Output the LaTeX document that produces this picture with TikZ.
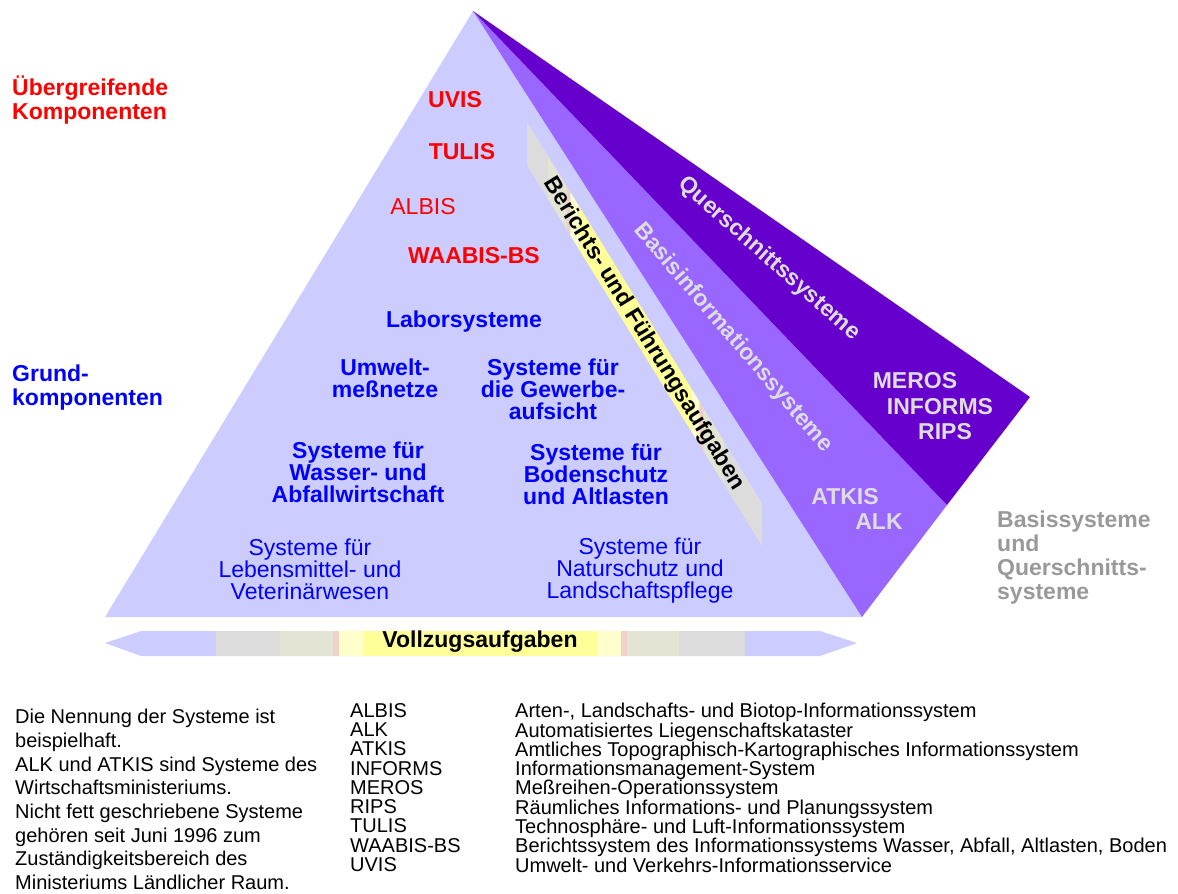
\documentclass[tikz,border=0pt]{standalone}
\usepackage{fontspec}
\setmainfont{Liberation Sans}
\usetikzlibrary{calc}
\definecolor{lav}{HTML}{CCCCFF}
\definecolor{medp}{HTML}{9966FF}
\definecolor{darkp}{HTML}{6600CC}
\definecolor{bgrey}{HTML}{DCDCDC}
\definecolor{bgg}{HTML}{E4E4D4}
\definecolor{bpink}{HTML}{F0D0C8}
\definecolor{bly}{HTML}{FFFFCC}
\definecolor{byel}{HTML}{FFFF99}
\definecolor{lgrey}{HTML}{DDDDDD}
\definecolor{mgrey}{HTML}{999999}
\definecolor{pred}{HTML}{FF0000}
\definecolor{pblue}{HTML}{0000FF}
\begin{document}
\begin{tikzpicture}[x=1pt,y=-1pt,
  bigb/.style={font=\fontsize{23}{22}\selectfont\bfseries, inner sep=0pt, align=center},
  bign/.style={font=\fontsize{23}{22}\selectfont, inner sep=0pt, align=center},
  sidelab/.style={font=\fontsize{23}{24}\selectfont\bfseries, inner sep=0pt, align=left, anchor=west},
  small/.style={font=\fontsize{20}{19.3}\selectfont, inner sep=0pt, align=left, anchor=north west},
  note/.style={font=\fontsize{20}{23.7}\selectfont, inner sep=0pt, align=left, anchor=north west}]
\path[use as bounding box] (0,0) rectangle (1178,894);

% pyramid
\coordinate (apex) at (473,11);
\coordinate (bl) at (105,617);
\coordinate (br) at (862,617);
\coordinate (dk) at (1030,397);
\coordinate (md) at (947,505);
\fill[lav] (apex) -- (bl) -- (br) -- cycle;
\fill[medp] (apex) -- (md) -- (br) -- cycle;
\fill[darkp] (apex) -- (dk) -- (md) -- cycle;

% diagonal band
\coordinate (A) at (527,122);
\coordinate (B) at (762,503);
\coordinate (C) at (527,165);
\coordinate (D) at (762,546);
\foreach \a/\b/\c in {0/0.09/bgrey, 0.09/0.17/bgg, 0.17/0.185/bpink, 0.185/0.22/bly, 0.22/0.70/byel, 0.70/0.735/bly, 0.735/0.75/bpink, 0.75/0.84/bgg, 0.84/1/bgrey}
  \fill[\c] ($(A)!\a!(B)$) -- ($(A)!\b!(B)$) -- ($(C)!\b!(D)$) -- ($(C)!\a!(D)$) -- cycle;

% bottom bar
\fill[lav] (105,643) -- (141,631) -- (820,631) -- (857,643) -- (820,656) -- (141,656) -- cycle;
\foreach \a/\b/\c in {216/280/bgrey, 280/333/bgg, 333/339/bpink, 339/364/bly, 364/598/byel, 598/621/bly, 621/627/bpink, 627/679/bgg, 679/745/bgrey}
  \fill[\c] (\a,631) rectangle (\b,656);
\node[bigb] (vollzug) at (480,642) {Vollzugsaufgaben};

% side labels
\node[sidelab, pred] (ueber) at (12,100) {Übergreifende\\Komponenten};
\node[sidelab, pblue] (grund) at (12,388) {Grund-\\komponenten};
\node[sidelab, mgrey] (basisq) at (997,558) {Basissysteme\\und\\Querschnitts-\\systeme};

% red systems
\node[bigb, pred] (uvis) at (455,100) {UVIS};
\node[bigb, pred] (tulis) at (462,152) {TULIS};
\node[bign, pred] (albis) at (423,207) {ALBIS};
\node[bigb, pred] (waabis) at (474,256) {WAABIS-BS};

% blue systems
\node[bigb, pblue] (labor) at (464,322) {Laborsysteme};
\node[bigb, pblue] (umwelt) at (385,378) {Umwelt-\\meßnetze};
\node[bigb, pblue] (gewerbe) at (553,389) {Systeme für\\die Gewerbe-\\aufsicht};
\node[bigb, pblue] (wasser) at (358,472) {Systeme für\\Wasser- und\\Abfallwirtschaft};
\node[bigb, pblue] (boden) at (596,474) {Systeme für\\Bodenschutz\\und Altlasten};
\node[bign, pblue] (lebens) at (310,569) {Systeme für\\Lebensmittel- und\\Veterinärwesen};
\node[bign, pblue] (natur) at (640,571) {Systeme für\\Naturschutz und\\Landschaftspflege};

% rotated labels
\node[bigb, lgrey, rotate=-41.5] (quer) at (769,259) {Querschnittssysteme};
\node[bigb, lgrey, rotate=-49.5] (basis) at (733,338) {Basisinformationssysteme};
\node[bigb, black, rotate=-58.3] (ber) at (644,334) {Berichts- und Führungsaufgaben};

% purple systems
\node[bigb, lgrey] (meros) at (915,381) {MEROS};
\node[bigb, lgrey] (informs) at (940,407) {INFORMS};
\node[bigb, lgrey] (rips) at (945,432) {RIPS};
\node[bigb, lgrey] (atkis) at (845,497) {ATKIS};
\node[bigb, lgrey] (alk) at (879,522) {ALK};

% bottom text
\node[note] (hinweis) at (15,709) {Die Nennung der Systeme ist\\beispielhaft.\\ALK und ATKIS sind Systeme des\\Wirtschaftsministeriums.\\Nicht fett geschriebene Systeme\\gehören seit Juni 1996 zum\\Zuständigkeitsbereich des\\Ministeriums Ländlicher Raum.};
\node[small] (abk) at (350,703) {ALBIS\\ALK\\ATKIS\\INFORMS\\MEROS\\RIPS\\TULIS\\WAABIS-BS\\UVIS};
\node[small] (erkl) at (515,703) {Arten-, Landschafts- und Biotop-Informationssystem\\Automatisiertes Liegenschaftskataster\\Amtliches Topographisch-Kartographisches Informationssystem\\Informationsmanagement-System\\Meßreihen-Operationssystem\\Räumliches Informations- und Planungssystem\\Technosphäre- und Luft-Informationssystem\\Berichtssystem des Informationssystems Wasser, Abfall, Altlasten, Boden\\Umwelt- und Verkehrs-Informationsservice};
\end{tikzpicture}
\end{document}
